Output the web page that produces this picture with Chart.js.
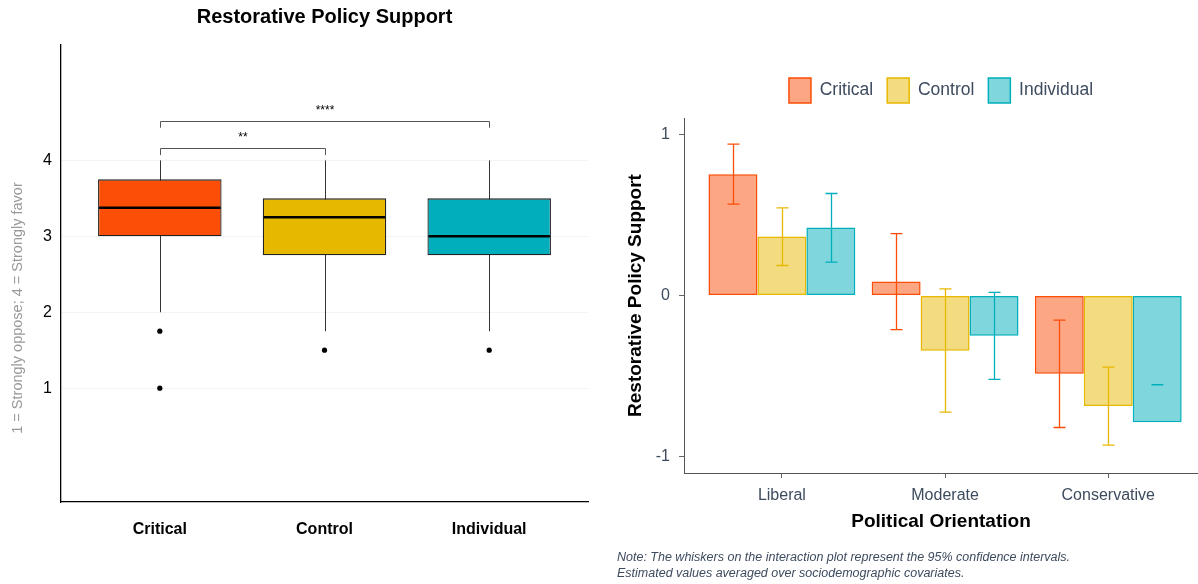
<!DOCTYPE html>
<html>
<head>
<meta charset="utf-8">
<script src="https://cdn.jsdelivr.net/npm/chart.js@4.4.1/dist/chart.umd.min.js"></script>
<style>
  html, body { margin: 0; padding: 0; background: #fff; }
  body { width: 1198px; height: 584px; position: relative; overflow: hidden; font-family: "Liberation Sans", Arial, sans-serif; }
  #boxWrap { position: absolute; left: 0; top: 0; width: 600px; height: 584px; }
  #barWrap { position: absolute; left: 600px; top: 0; width: 598px; height: 584px; }
  #note { position: absolute; left: 617px; top: 549px; font-style: italic; font-size: 12.5px; line-height: 16px; color: #3d4b5e; }
</style>
</head>
<body>
<div id="boxWrap"><canvas id="boxChart"></canvas></div>
<div id="barWrap"><canvas id="barChart"></canvas></div>
<div id="note">Note: The whiskers on the interaction plot represent the 95% confidence intervals.<br>Estimated values averaged over sociodemographic covariates.</div>
<script>
Chart.defaults.font.family = '"Liberation Sans", Arial, sans-serif';
Chart.defaults.animation = false;

// Left panel: boxplot summary per condition (1 = strongly oppose, 4 = strongly favor)
const conditions = ['Critical', 'Control', 'Individual'];
const conditionColors = ['#FC4E07', '#E7B800', '#00AFBB'];
const boxLower = [2, 1.75, 1.75];
const boxQ1 = [3, 2.75, 2.75];
const boxMedian = [3.375, 3.25, 3];
const boxQ3 = [3.75, 3.5, 3.5];
const boxUpper = [4, 4, 4];
const outliers = [[1.75, 1], [1.5], [1.5]];
const boxTicks = [1, 2, 3, 4];

// significance brackets (indexes into conditions)
const compPairs = [[0, 1], [0, 2]];
const compLabels = ['**', '****'];

// Right panel: estimated support by political orientation
const orientations = ['Liberal', 'Moderate', 'Conservative'];
const critical = [0.752, 0.087, -0.485];
const control = [0.366, -0.343, -0.685];
const individual = [0.421, -0.25, -0.785];
const criticalLo = [0.566, -0.211, -0.818];
const criticalHi = [0.938, 0.384, -0.153];
const controlLo = [0.186, -0.723, -0.927];
const controlHi = [0.543, 0.041, -0.444];
const individualLo = [0.207, -0.52, -0.553];
const individualHi = [0.632, 0.019, -0.553];
const supportTicks = [-1, 0, 1];

const textSlate = '#3d4b5e';

function alpha(hex, a) {
  const n = parseInt(hex.slice(1), 16);
  return `rgba(${(n >> 16) & 255}, ${(n >> 8) & 255}, ${n & 255}, ${a})`;
}

// ---------- boxplot ----------
const boxExtras = {
  id: 'boxExtras',
  beforeDatasetsDraw(chart) {
    const { ctx, scales: { x, y } } = chart;
    ctx.save();
    ctx.strokeStyle = '#333';
    ctx.lineWidth = 1;
    conditions.forEach((c, i) => {
      const px = Math.round(x.getPixelForValue(i + 1)) + 0.5;
      ctx.beginPath();
      ctx.moveTo(px, y.getPixelForValue(boxUpper[i]));
      ctx.lineTo(px, y.getPixelForValue(boxLower[i]));
      ctx.stroke();
    });
    ctx.restore();
  },
  afterDatasetsDraw(chart) {
    const { ctx, scales: { x, y } } = chart;
    const boxes = chart.getDatasetMeta(0).data;
    ctx.save();
    // medians
    ctx.strokeStyle = '#000';
    ctx.lineWidth = 2.5;
    boxes.forEach((bar, i) => {
      const py = y.getPixelForValue(boxMedian[i]);
      ctx.beginPath();
      ctx.moveTo(bar.x - bar.width / 2 + 1, py);
      ctx.lineTo(bar.x + bar.width / 2 - 1, py);
      ctx.stroke();
    });
    // significance brackets
    ctx.lineWidth = 1;
    ctx.font = '12px "Liberation Sans", Arial, sans-serif';
    ctx.fillStyle = '#000';
    ctx.textAlign = 'center';
    ctx.textBaseline = 'middle';
    compPairs.forEach(([a, b], k) => {
      const lineY = Math.round(y.getPixelForValue(4.16 + k * 0.36)) + 0.5;
      const endY = y.getPixelForValue(4.07 + k * 0.36);
      const x1 = Math.round(x.getPixelForValue(a + 1)) + 0.5;
      const x2 = Math.round(x.getPixelForValue(b + 1)) + 0.5;
      ctx.strokeStyle = '#555';
      ctx.beginPath();
      ctx.moveTo(x1, endY);
      ctx.lineTo(x1, lineY);
      ctx.lineTo(x2, lineY);
      ctx.lineTo(x2, endY);
      ctx.stroke();
      ctx.fillText(compLabels[k], (x1 + x2) / 2, lineY - 11);
    });
    ctx.restore();
  },
  afterDraw(chart) {
    const { ctx, chartArea } = chart;
    ctx.save();
    ctx.fillStyle = '#000';
    ctx.textAlign = 'center';
    ctx.textBaseline = 'middle';
    ctx.font = 'bold 20px "Liberation Sans", Arial, sans-serif';
    ctx.fillText('Restorative Policy Support', (chartArea.left + chartArea.right) / 2, 17);
    ctx.translate(18, 308);
    ctx.rotate(-Math.PI / 2);
    ctx.fillStyle = '#999';
    ctx.font = '14.5px "Liberation Sans", Arial, sans-serif';
    ctx.fillText('1 = Strongly oppose; 4 = Strongly favor', 0, 0);
    ctx.restore();
  }
};

new Chart(document.getElementById('boxChart'), {
  type: 'bar',
  data: {
    datasets: [
      {
        label: 'IQR',
        data: conditions.map((c, i) => ({ x: i + 1, y: [boxQ1[i], boxQ3[i]] })),
        backgroundColor: conditionColors,
        borderColor: '#222',
        borderWidth: 1.3,
        borderSkipped: false,
        barPercentage: 0.75,
        categoryPercentage: 1
      },
      {
        type: 'scatter',
        label: 'Outliers',
        data: outliers.flatMap((vals, i) => vals.map(v => ({ x: i + 1, y: v }))),
        backgroundColor: '#000',
        borderWidth: 0,
        pointRadius: 2.6
      }
    ]
  },
  options: {
    responsive: true,
    maintainAspectRatio: false,
    layout: { padding: { top: 45, right: 12, left: 0, bottom: 0 } },
    plugins: { legend: { display: false }, tooltip: { enabled: false } },
    scales: {
      x: {
        type: 'linear',
        min: 0.4,
        max: 3.6,
        offset: false,
        afterBuildTicks: s => { s.ticks = conditions.map((c, i) => ({ value: i + 1 })); },
        afterFit: s => { s.height = 82; },
        grid: { display: false, offset: false },
        border: { display: true, color: '#000', width: 1.3 },
        ticks: {
          padding: 10,
          color: '#000',
          font: { size: 16, weight: 'bold' },
          callback: v => conditions[v - 1]
        }
      },
      y: {
        min: -0.5,
        max: 5.52,
        afterBuildTicks: s => { s.ticks = boxTicks.map(v => ({ value: v })); },
        afterFit: s => { s.width = 61; },
        grid: { color: '#f4f4f4', drawTicks: false },
        border: { color: '#000', width: 1.3 },
        ticks: { padding: 9, color: '#000', font: { size: 16 } }
      }
    }
  },
  plugins: [boxExtras]
});

// ---------- interaction bar chart ----------
const barSeries = [
  { label: 'Critical', values: critical, lo: criticalLo, hi: criticalHi, color: '#FC4E07' },
  { label: 'Control', values: control, lo: controlLo, hi: controlHi, color: '#E7B800' },
  { label: 'Individual', values: individual, lo: individualLo, hi: individualHi, color: '#00AFBB' }
];

const errorBars = {
  id: 'errorBars',
  afterDatasetsDraw(chart) {
    const { ctx, scales: { y } } = chart;
    ctx.save();
    ctx.lineWidth = 1.3;
    barSeries.forEach((s, i) => {
      const meta = chart.getDatasetMeta(i);
      ctx.strokeStyle = s.color;
      meta.data.forEach((bar, j) => {
        const cx = Math.round(bar.x) + 0.5;
        const top = y.getPixelForValue(s.hi[j]);
        const bot = y.getPixelForValue(s.lo[j]);
        ctx.beginPath();
        ctx.moveTo(cx, top);
        ctx.lineTo(cx, bot);
        ctx.moveTo(cx - 6, top);
        ctx.lineTo(cx + 6, top);
        ctx.moveTo(cx - 6, bot);
        ctx.lineTo(cx + 6, bot);
        ctx.stroke();
      });
    });
    ctx.restore();
  }
};

// a little more room between the legend and the plot area
const legendGap = {
  id: 'legendGap',
  beforeLayout(chart) {
    const lg = chart.legend;
    if (lg && !lg._gapPatched) {
      const fit = lg.fit.bind(lg);
      lg.fit = function () { fit(); this.height += 5; };
      lg._gapPatched = true;
    }
  }
};

new Chart(document.getElementById('barChart'), {
  type: 'bar',
  data: {
    datasets: barSeries.map(s => ({
      label: s.label,
      data: s.values.map((v, i) => ({ x: i + 1, y: v })),
      backgroundColor: alpha(s.color, 0.5),
      borderColor: s.color,
      borderWidth: 1.5,
      borderSkipped: false,
      categoryPercentage: 0.9,
      barPercentage: 1
    }))
  },
  options: {
    responsive: true,
    maintainAspectRatio: false,
    layout: { padding: { top: 64, right: 0, left: 6, bottom: 0 } },
    plugins: {
      tooltip: { enabled: false },
      legend: {
        position: 'top',
        fullSize: false,
        labels: {
          boxWidth: 22,
          boxHeight: 25,
          padding: 14,
          color: textSlate,
          font: { size: 17.5 }
        }
      }
    },
    scales: {
      x: {
        type: 'linear',
        min: 0.4,
        max: 3.55,
        offset: false,
        afterBuildTicks: s => { s.ticks = orientations.map((o, i) => ({ value: i + 1 })); },
        afterFit: s => { s.height = 111; },
        grid: { drawOnChartArea: false, drawTicks: true, tickLength: 5, color: '#666', offset: false },
        border: { color: '#555', width: 1 },
        ticks: {
          padding: 8,
          color: textSlate,
          font: { size: 16 },
          callback: v => orientations[v - 1]
        },
        title: {
          display: true,
          text: 'Political Orientation',
          color: '#000',
          font: { size: 19, weight: 'bold' },
          padding: { top: 0, bottom: 51 }
        }
      },
      y: {
        min: -1.1,
        max: 1.1,
        afterBuildTicks: s => { s.ticks = supportTicks.map(v => ({ value: v })); },
        afterFit: s => { s.width = 78; },
        grid: { drawOnChartArea: false, drawTicks: true, tickLength: 5, color: '#666' },
        border: { color: '#555', width: 1 },
        ticks: { padding: 9, color: textSlate, font: { size: 16 }, callback: v => String(v) },
        title: {
          display: true,
          text: 'Restorative Policy Support',
          color: '#000',
          font: { size: 19, weight: 'bold' },
          padding: { top: 18, bottom: 0 }
        }
      }
    }
  },
  plugins: [errorBars, legendGap]
});
</script>
</body>
</html>
